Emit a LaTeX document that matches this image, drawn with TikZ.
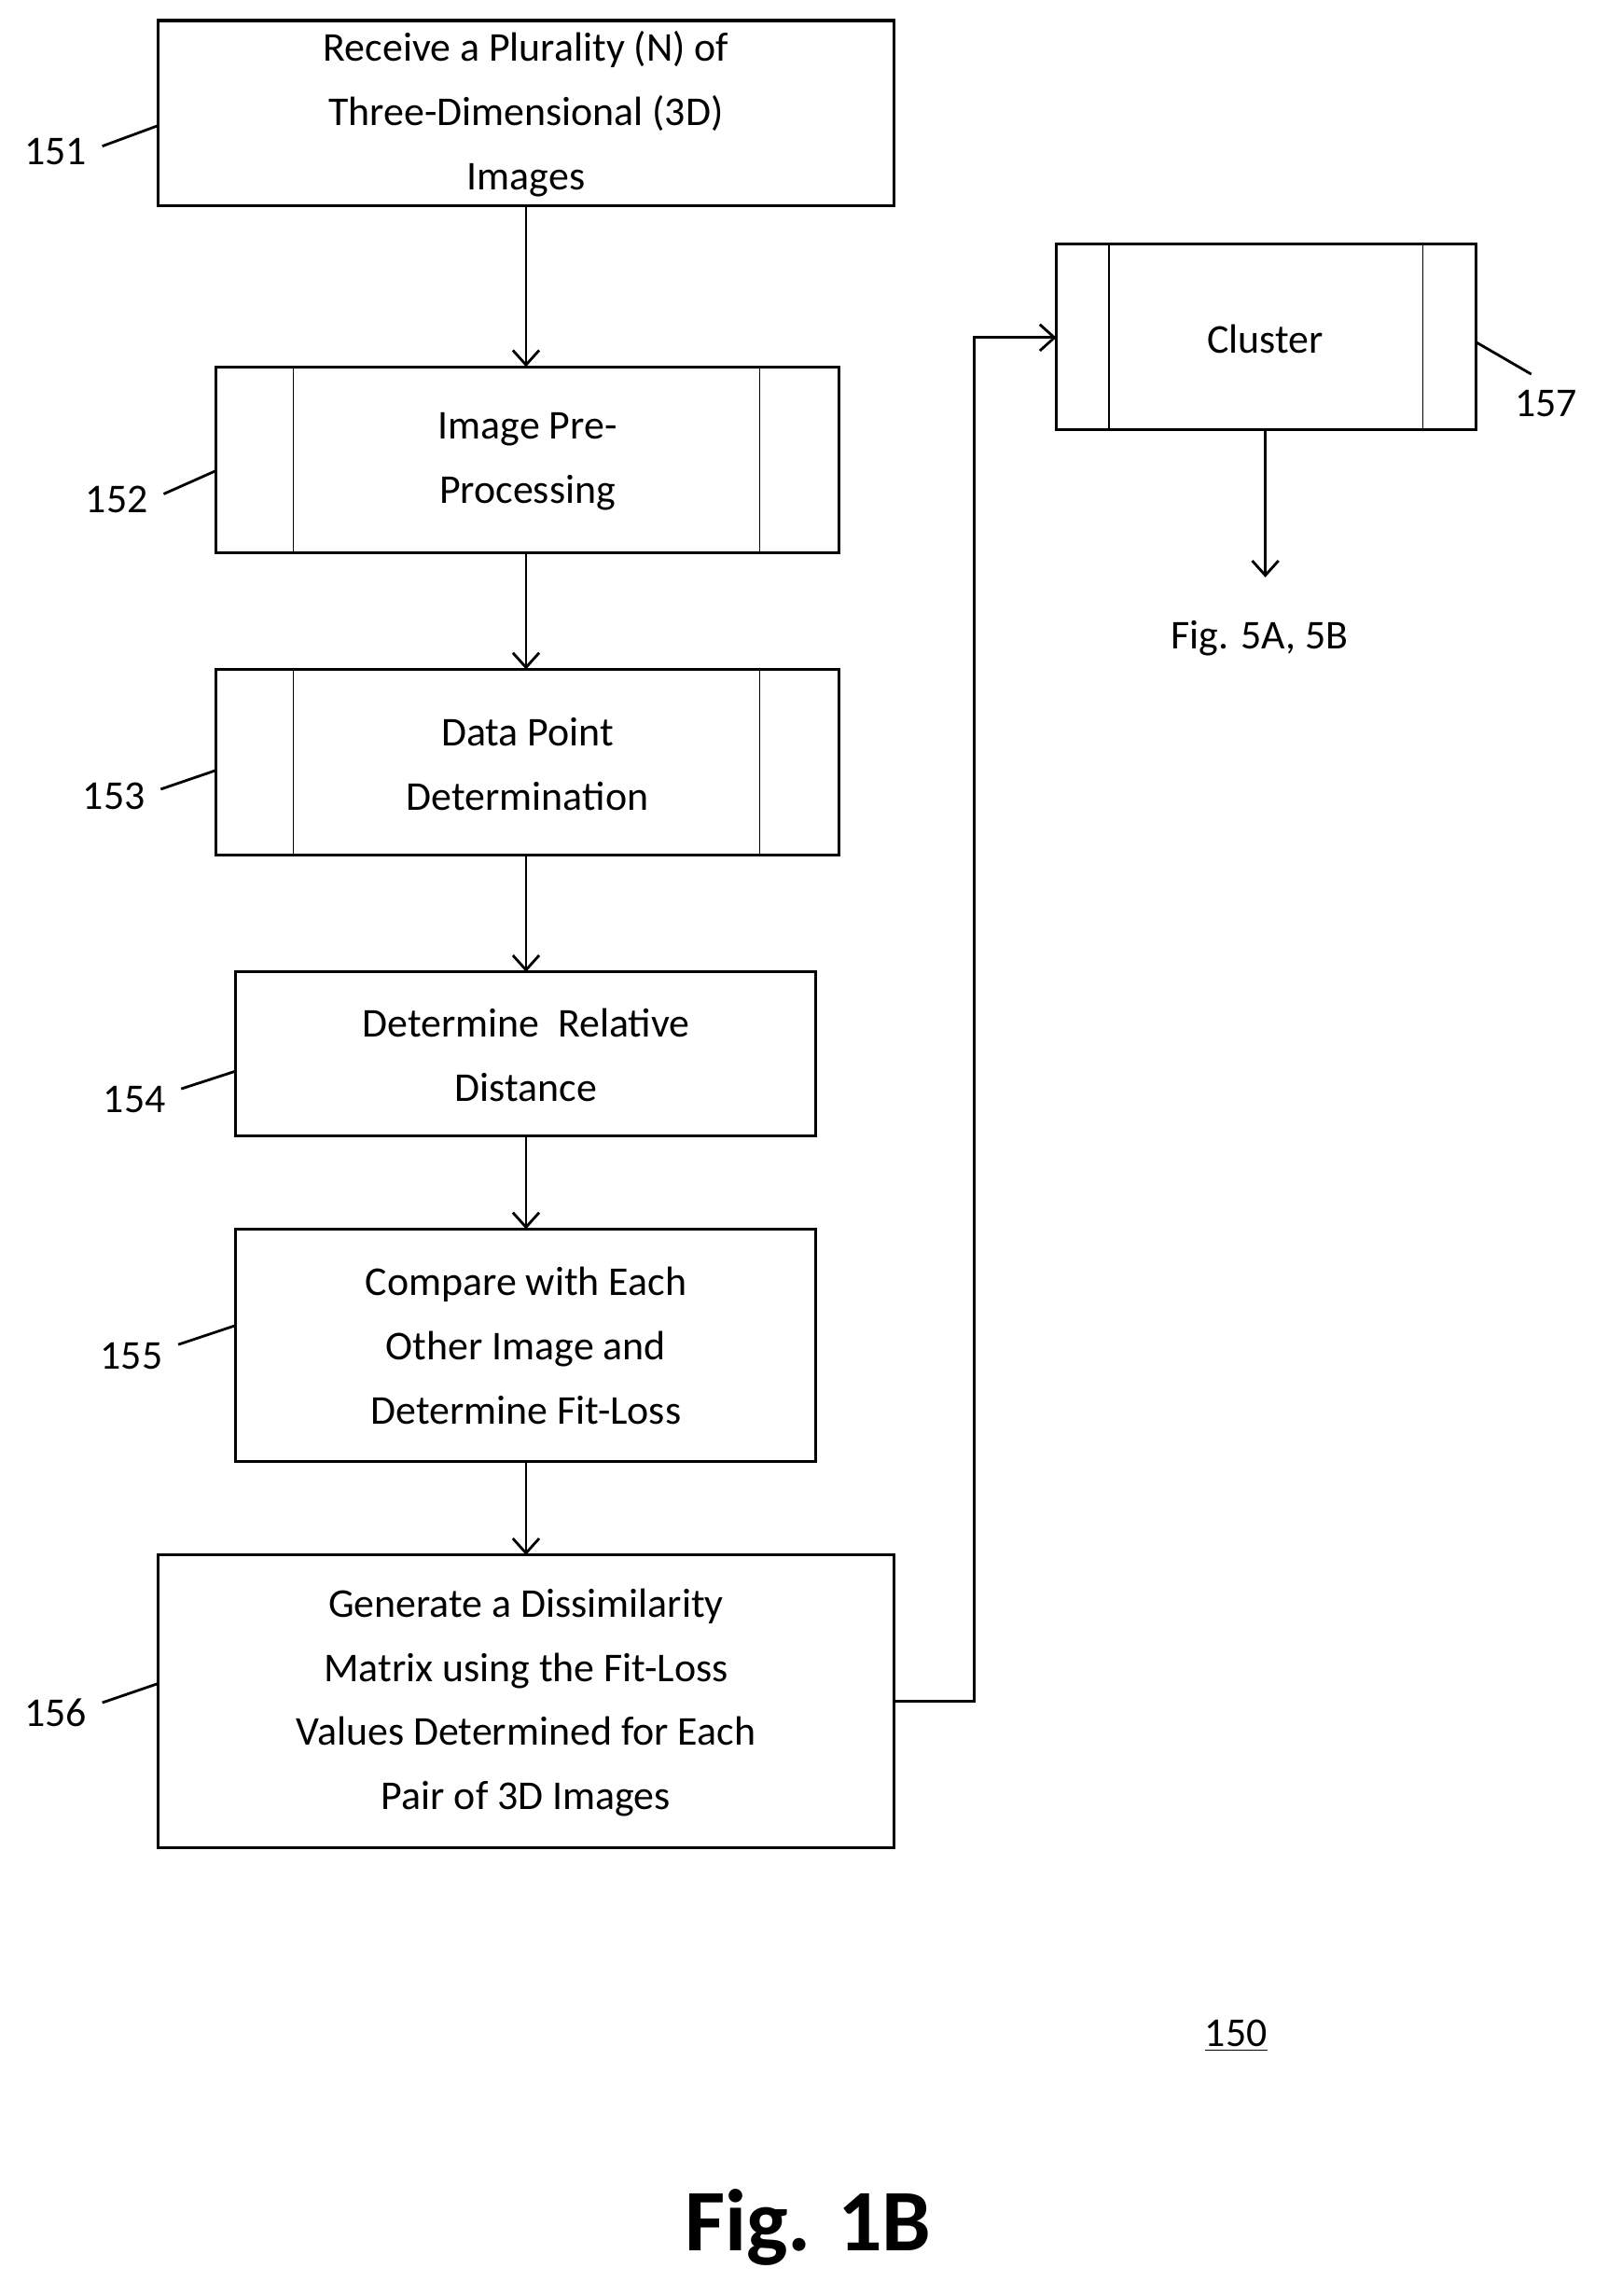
\documentclass[tikz,border=0pt]{standalone}
\usepackage{fontspec}
\setmainfont{Carlito}
\usetikzlibrary{arrows.meta}
\begin{document}
\begin{tikzpicture}[x=0.5pt,y=-0.5pt,
  box/.style={draw,line width=1pt},
  txt/.style={align=center,font=\fontsize{14pt}{22pt}\selectfont,inner sep=0},
  lbl/.style={font=\fontsize{14pt}{17pt}\selectfont,inner sep=0},
  arr/.style={draw,line width=0.9pt,-{Straight Barb[length=5pt,width=9pt]}},
  ld/.style={draw,line width=0.9pt}]
\useasboundingbox (0,0) rectangle (1100,1571);
% boxes
\draw[box] (108,14) rectangle (612,141); \node[txt] (t151) at (360,78) {Receive a Plurality (N) of\\Three-Dimensional (3D)\\Images};
\coordinate (b151) at (360,141);
\draw[box] (148,251) rectangle (574,378); \draw (201,251)--(201,378) (520,251)--(520,378);
\node[txt] (t152) at (361,316) {Image Pre-\\Processing};
\coordinate (a152) at (360,251); \coordinate (b152) at (360,378);
\draw[box] (148,458) rectangle (574,585); \draw (201,458)--(201,585) (520,458)--(520,585);
\node[txt] (t153) at (361,523) {Data Point\\Determination};
\coordinate (a153) at (360,458); \coordinate (b153) at (360,585);
\draw[box] (161,665) rectangle (558,777);
\node[txt] (t154) at (360,722) {Determine\ \ Relative\\Distance};
\coordinate (a154) at (360,665); \coordinate (b154) at (360,777);
\draw[box] (161,841) rectangle (558,1000);
\node[txt] (t155) at (360,921) {Compare with Each\\Other Image and\\Determine Fit-Loss};
\coordinate (a155) at (360,841); \coordinate (b155) at (360,1000);
\draw[box] (108,1064) rectangle (612,1264);
\node[txt] (t156) at (360,1165) {Generate a Dissimilarity\\Matrix using the Fit-Loss\\Values Determined for Each\\Pair of 3D Images};
\coordinate (a156) at (360,1064); \coordinate (r156) at (612,1164);
\draw[box] (723,167) rectangle (1010,294); \draw (759,167)--(759,294) (974,167)--(974,294);
\node[txt] (t157) at (866,232) {Cluster};
\coordinate (l157) at (723,231); \coordinate (b157) at (866,294); \coordinate (e157) at (866,395);
% arrows
\path[arr] (b151)--(a152);
\path[arr] (b152)--(a153);
\path[arr] (b153)--(a154);
\path[arr] (b154)--(a155);
\path[arr] (b155)--(a156);
\path[arr] (r156)--(667,1164)--(667,231)--(l157);
\path[arr] (b157)--(e157);
\node[lbl] (fig5) at (862,437) {Fig. 5A, 5B};
% reference labels
\node[lbl] (n151) at (38,104) {151}; \draw[ld] (70,100)--(108,86);
\node[lbl] (n152) at (80,342) {152}; \draw[ld] (112,338)--(148,322);
\node[lbl] (n153) at (78,545) {153}; \draw[ld] (110,540)--(148,527);
\node[lbl] (n154) at (92,752) {154}; \draw[ld] (124,745)--(161,733);
\node[lbl] (n155) at (90,928) {155}; \draw[ld] (122,920)--(161,907);
\node[lbl] (n156) at (38,1172) {156}; \draw[ld] (70,1165)--(108,1152);
\node[lbl] (n157) at (1058,276) {157}; \draw[ld] (1010,234)--(1048,256);
\node[lbl] (n150) at (846,1393) {\underline{150}};
\node[font=\fontsize{30pt}{36pt}\selectfont\bfseries,inner sep=0] (fig) at (553,1524) {Fig. 1B};
\end{tikzpicture}
\end{document}
